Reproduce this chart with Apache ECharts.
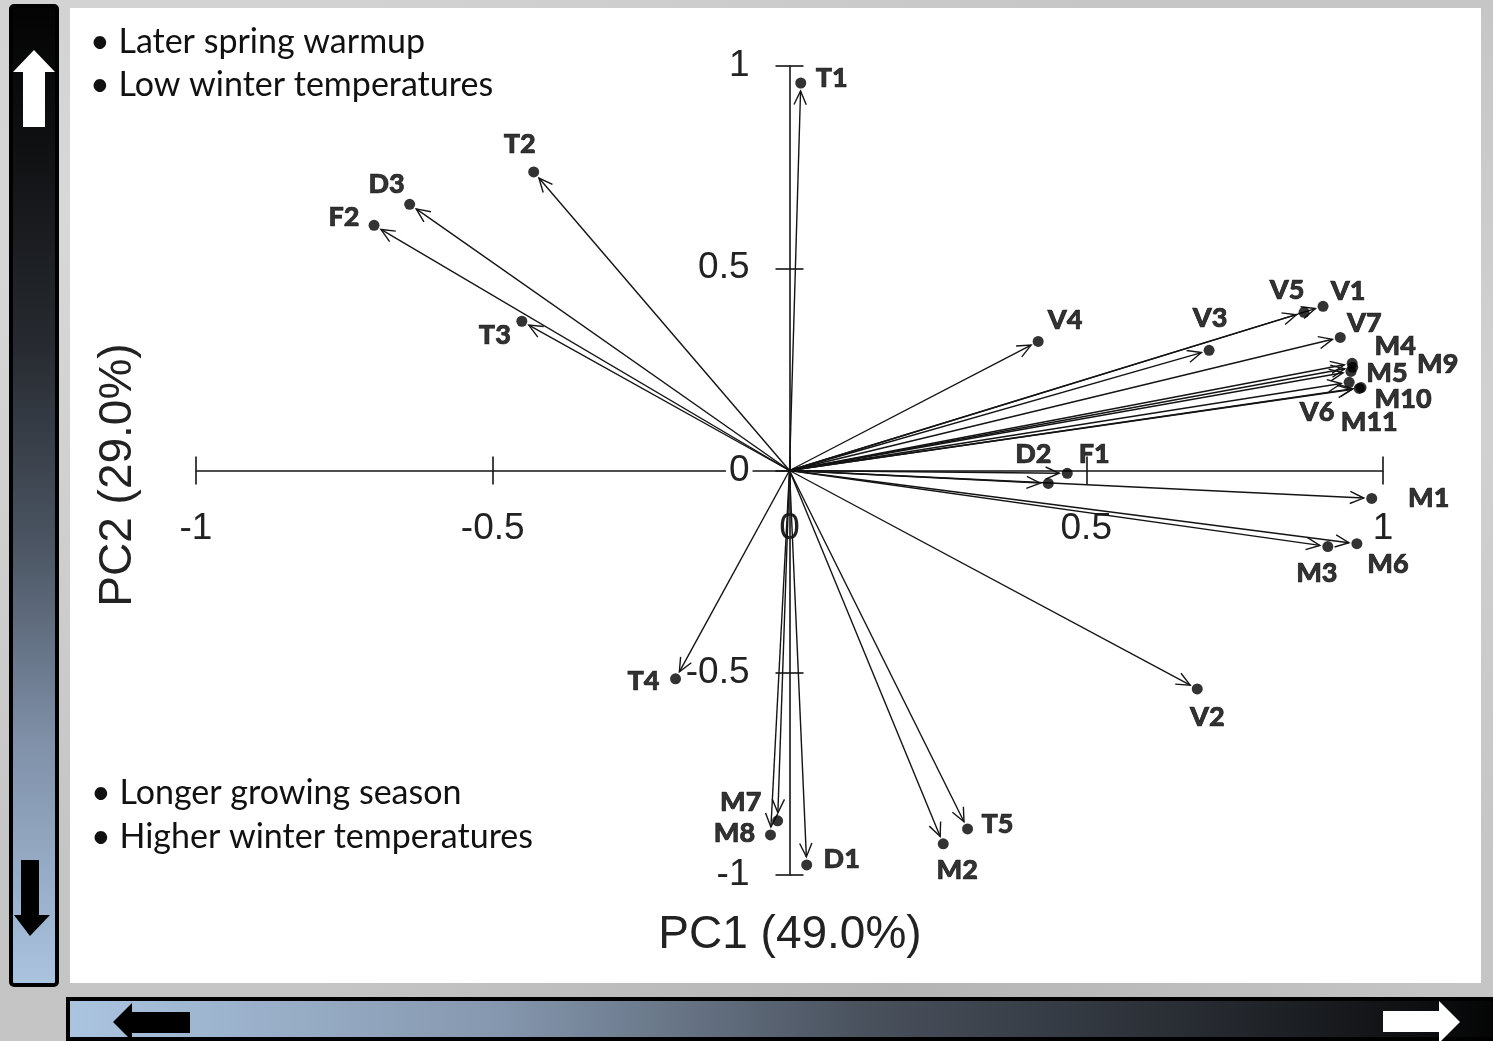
<!DOCTYPE html>
<html>
<head>
<meta charset="utf-8">
<script src="https://cdn.jsdelivr.net/npm/echarts@6/dist/echarts.min.js"></script>
<style>
  html, body { margin: 0; padding: 0; }
  body {
    width: 1493px; height: 1041px; overflow: hidden;
    background:
      radial-gradient(ellipse at 10% 20%, #d9d9d9, rgba(217,217,217,0) 55%),
      radial-gradient(ellipse at 60% 95%, #b4b4b4, rgba(180,180,180,0) 45%),
      radial-gradient(ellipse at 95% 40%, #d2d2d2, rgba(210,210,210,0) 50%),
      #c5c5c5;
  }
  #chart { width: 1493px; height: 1041px; }
</style>
</head>
<body>
<div id="chart"></div>
<script>
// variable names and loadings
const names = ["T1", "T2", "D3", "F2", "T3", "V4", "V3", "V5", "V1", "V7", "M4", "M9", "M5", "V6",
  "M10", "M11", "D2", "F1", "M1", "M3", "M6", "V2", "T4", "M7", "M8", "D1", "M2", "T5"];
const pc1 = [0.019, -0.431, -0.640, -0.700, -0.451, 0.419, 0.707, 0.867, 0.899, 0.928, 0.948, 0.949, 0.946, 0.943,
  0.963, 0.960, 0.436, 0.468, 0.981, 0.907, 0.956, 0.687, -0.192, -0.020, -0.032, 0.029, 0.259, 0.300];
const pc2 = [0.958, 0.738, 0.658, 0.606, 0.369, 0.319, 0.297, 0.391, 0.406, 0.329, 0.265, 0.255, 0.245, 0.218,
  0.205, 0.203, -0.032, -0.007, -0.069, -0.188, -0.181, -0.540, -0.515, -0.866, -0.901, -0.975, -0.923, -0.886];

const axisTitleX = "PC1 (49.0%)";
const axisTitleY = "PC2 (29.0%)";
const notesTop = ["Later spring warmup", "Low winter temperatures"];
const notesBottom = ["Longer growing season", "Higher winter temperatures"];

// label placement (offset of label centre from the dot, px)
const labelOffset = {
  T1: [31, -5], T2: [-14, -28], D3: [-23, -20], F2: [-30, -8], T3: [-27, 14],
  V4: [27, -21], V3: [1, -32], V5: [-17, -22], V1: [25, -15], V7: [24, -14],
  M4: [43, -17], M9: [85, -3], M5: [36, 2], V6: [-32, 30], M10: [42, 12], M11: [10, 34],
  D2: [-15, -29], F1: [27, -19], M1: [57, 0], M3: [-11, 27], M6: [31, 21],
  V2: [10, 28], T4: [-32, 2], M7: [-37, -19], M8: [-36, -2], D1: [35, -6], M2: [14, 26], T5: [30, -5]
};

const ink = "#141414";
const chart = echarts.init(document.getElementById("chart"));

const points = names.map((n, i) => [pc1[i], pc2[i], n]);

function renderArrow(params, api) {
  const o = api.coord([0, 0]);
  const p = api.coord([api.value(0), api.value(1)]);
  const dx = p[0] - o[0], dy = p[1] - o[1];
  const len = Math.sqrt(dx * dx + dy * dy);
  const ux = dx / len, uy = dy / len;
  const gap = 8, head = 15, ang = 0.42;
  const tip = [p[0] - ux * gap, p[1] - uy * gap];
  const wing = (a) => {
    const c = Math.cos(a), s = Math.sin(a);
    const rx = ux * c - uy * s, ry = ux * s + uy * c;
    return [tip[0] - rx * head, tip[1] - ry * head];
  };
  return {
    type: "group",
    children: [
      { type: "line", shape: { x1: o[0], y1: o[1], x2: tip[0], y2: tip[1] },
        style: { stroke: ink, lineWidth: 1.4 } },
      { type: "polyline", shape: { points: [wing(ang), tip, wing(-ang)] },
        style: { stroke: ink, lineWidth: 1.4, fill: null } }
    ]
  };
}

const axisFont = { fontFamily: "Liberation Sans", fontSize: 37, color: "#222" };
const tickStyle = { length: 14, lineStyle: { color: ink, width: 1.6 } };

function bullets(lines, x, y0, step) {
  return lines.map((t, i) => ({
    type: "text", x: x, y: y0 + i * step, z: 5,
    style: { text: "\u2022 " + t, fontFamily: "Lato", fontSize: 34, fill: "#111", verticalAlign: "middle" }
  }));
}

// grid spans -1..1 on both axes, so the zero lines sit at half width / half height
const gridLeft = 196, gridTop = 66, gridW = 1187, gridH = 809;

const option = {
  animation: false,
  grid: { left: gridLeft, top: gridTop, width: gridW, height: gridH },
  xAxis: [
    { type: "value", min: -1, max: 1, interval: 0.5, position: "bottom", offset: -gridH / 2,
      axisLine: { onZero: false, lineStyle: { color: ink, width: 1.6 } },
      axisTick: tickStyle,
      axisLabel: Object.assign({ margin: 40, showMinLabel: true, showMaxLabel: true }, axisFont),
      splitLine: { show: false } },
    { type: "value", min: -1, max: 1, interval: 0.5, position: "top", offset: -gridH / 2,
      axisLine: { onZero: false, show: false },
      axisTick: tickStyle,
      axisLabel: { show: false }, splitLine: { show: false } }
  ],
  yAxis: [
    { type: "value", min: -1, max: 1, interval: 0.5, position: "left", offset: -gridW / 2,
      axisLine: { onZero: false, lineStyle: { color: ink, width: 1.6 } },
      axisTick: tickStyle,
      axisLabel: Object.assign({ margin: 37, backgroundColor: "#fff", padding: [0, 3] }, axisFont),
      splitLine: { show: false } },
    { type: "value", min: -1, max: 1, interval: 0.5, position: "right", offset: -gridW / 2,
      axisLine: { onZero: false, show: false },
      axisTick: tickStyle,
      axisLabel: { show: false }, splitLine: { show: false } }
  ],
  graphic: [
    { type: "rect", z: -10, shape: { x: 70, y: 8, width: 1411, height: 975 }, style: { fill: "#fff" } },
    // left gradient bar
    { type: "rect", z: -10, shape: { x: 11, y: 6, width: 46, height: 979, r: 3 },
      style: { fill: new echarts.graphic.LinearGradient(0, 0, 0, 1, [
        { offset: 0, color: "#030303" }, { offset: 0.15, color: "#101113" },
        { offset: 0.35, color: "#272b31" }, { offset: 0.55, color: "#4b5563" },
        { offset: 0.75, color: "#7f90a8" }, { offset: 1, color: "#abc4e0" }]),
        stroke: "#000", lineWidth: 4 } },
    { type: "polygon", z: -5, shape: { points: [[34, 50], [55, 72], [45, 72], [45, 127], [23, 127], [23, 72], [13, 72]] },
      style: { fill: "#fff" } },
    { type: "polygon", z: -5, shape: { points: [[21, 860], [39, 860], [39, 915], [50, 915], [30, 936], [14, 915], [21, 915]] },
      style: { fill: "#000" } },
    // bottom gradient bar
    { type: "rect", z: -10, shape: { x: 68, y: 999, width: 1440, height: 40 },
      style: { fill: new echarts.graphic.LinearGradient(0, 0, 1, 0, [
        { offset: 0, color: "#abc4e0" }, { offset: 0.3, color: "#8597ae" },
        { offset: 0.55, color: "#4a525e" }, { offset: 0.8, color: "#25292f" }, { offset: 1, color: "#030303" }]),
        stroke: "#000", lineWidth: 4 } },
    { type: "polygon", z: -5, shape: { points: [[113, 1022], [132, 1003], [132, 1012], [190, 1012], [190, 1033], [132, 1033], [132, 1041]] },
      style: { fill: "#000" } },
    { type: "polygon", z: -5, shape: { points: [[1383, 1011], [1439, 1011], [1439, 1001], [1460, 1022], [1439, 1043], [1439, 1032], [1383, 1032]] },
      style: { fill: "#fff" } },
    // axis titles
    { type: "text", x: 790, y: 935, z: 5,
      style: { text: axisTitleX, fontFamily: "Liberation Sans", fontSize: 46, fill: "#222", align: "center", verticalAlign: "middle" } },
    { type: "text", x: 118, y: 475, rotation: Math.PI / 2, z: 5,
      style: { text: axisTitleY, fontFamily: "Liberation Sans", fontSize: 46, fill: "#222", align: "center", verticalAlign: "middle" } }
  ].concat(bullets(notesTop, 90, 42, 43), bullets(notesBottom, 91, 793, 44)),
  series: [
    { type: "custom", renderItem: renderArrow, data: points, z: 3, silent: true },
    { type: "scatter", symbolSize: 11, z: 4, itemStyle: { color: "#000" },
      data: points.map((p) => ({
        value: p,
        label: { show: true, position: "inside", offset: labelOffset[p[2]], formatter: p[2],
          fontFamily: "Lato", fontWeight: 900, fontSize: 27, color: "#000",
          textBorderColor: "#000", textBorderWidth: 0.7 }
      })) }
  ]
};

chart.setOption(option);
</script>
</body>
</html>
